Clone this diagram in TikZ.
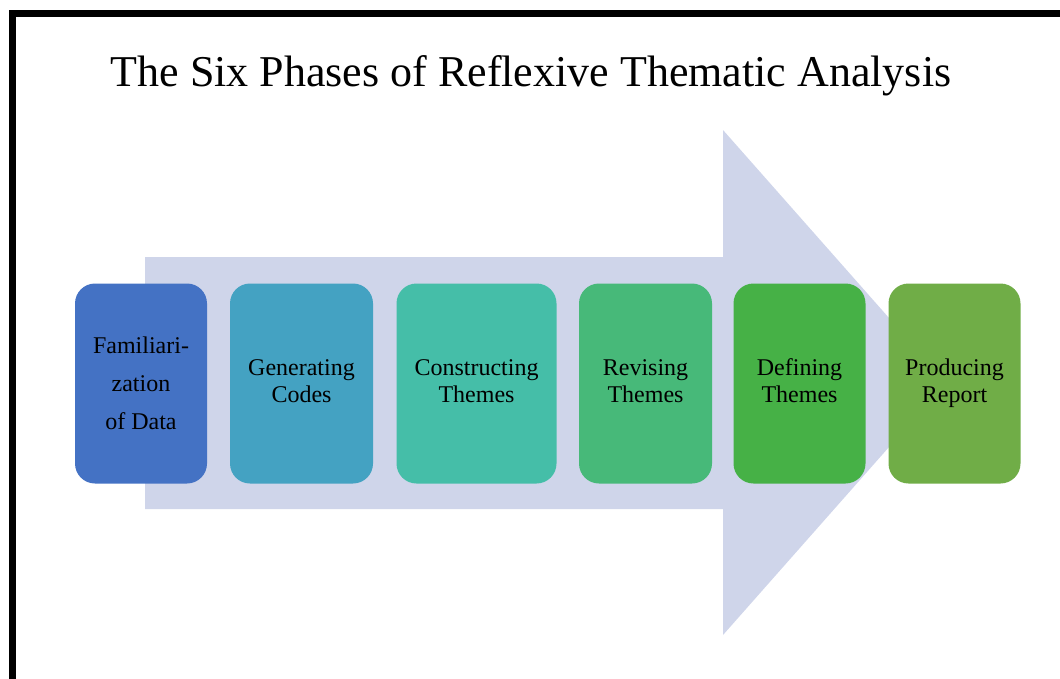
\documentclass[tikz,border=0pt]{standalone}
\usepackage{fontspec}
\setmainfont{Liberation Serif}
\usepackage{xcolor}

\definecolor{arrowfill}{HTML}{CFD5EA}
\definecolor{phaseone}{HTML}{4472C4}
\definecolor{phasetwo}{HTML}{44A2C2}
\definecolor{phasethree}{HTML}{45BEA8}
\definecolor{phasefour}{HTML}{47B979}
\definecolor{phasefive}{HTML}{46B146}
\definecolor{phasesix}{HTML}{70AD47}

\tikzset{
  phase/.style = {rectangle, rounded corners = 20pt, minimum height = 200pt, align = center, inner sep = 2pt, font = \fontsize{24}{27}\selectfont}
}

\begin{document}
\begin{tikzpicture}[x = 1pt, y = -1pt]
      \useasboundingbox (0, 0) rectangle (1060, 678);
      \clip (0, 0) rectangle (1060, 678);

      % frame
      \draw [line width = 7pt] (12.5, 700) -- (12.5, 13.5) -- (1080, 13.5);

      % title
      \node (title) [anchor = base, font = \fontsize{44}{50}\selectfont] at (531, 86) {The Six Phases of Reflexive Thematic Analysis};

      % big arrow behind the phases
      \fill [arrowfill] (145, 257) -- (723, 257) -- (723, 130) -- (946, 382.5) -- (723, 635) -- (723, 509) -- (145, 509) -- cycle;

      \node (familiarization) [phase, fill = phaseone, minimum width = 132pt, font = \fontsize{24}{38}\selectfont] at (141, 383.5) {Familiari-\strut\\zation\strut\\of Data\strut};
      \node (generating_codes) [phase, fill = phasetwo, minimum width = 143pt] at (301.5, 383.5) {Generating\strut\\Codes\strut};
      \node (constructing_themes) [phase, fill = phasethree, minimum width = 160pt] at (476.5, 383.5) {Constructing\strut\\Themes\strut};
      \node (revising_themes) [phase, fill = phasefour, minimum width = 133pt] at (645.5, 383.5) {Revising\strut\\Themes\strut};
      \node (defining_themes) [phase, fill = phasefive, minimum width = 132pt] at (799.5, 383.5) {Defining\strut\\Themes\strut};
      \node (producing_report) [phase, fill = phasesix, minimum width = 132pt] at (954.5, 383.5) {Producing\strut\\Report\strut};
    \end{tikzpicture}
\end{document}
